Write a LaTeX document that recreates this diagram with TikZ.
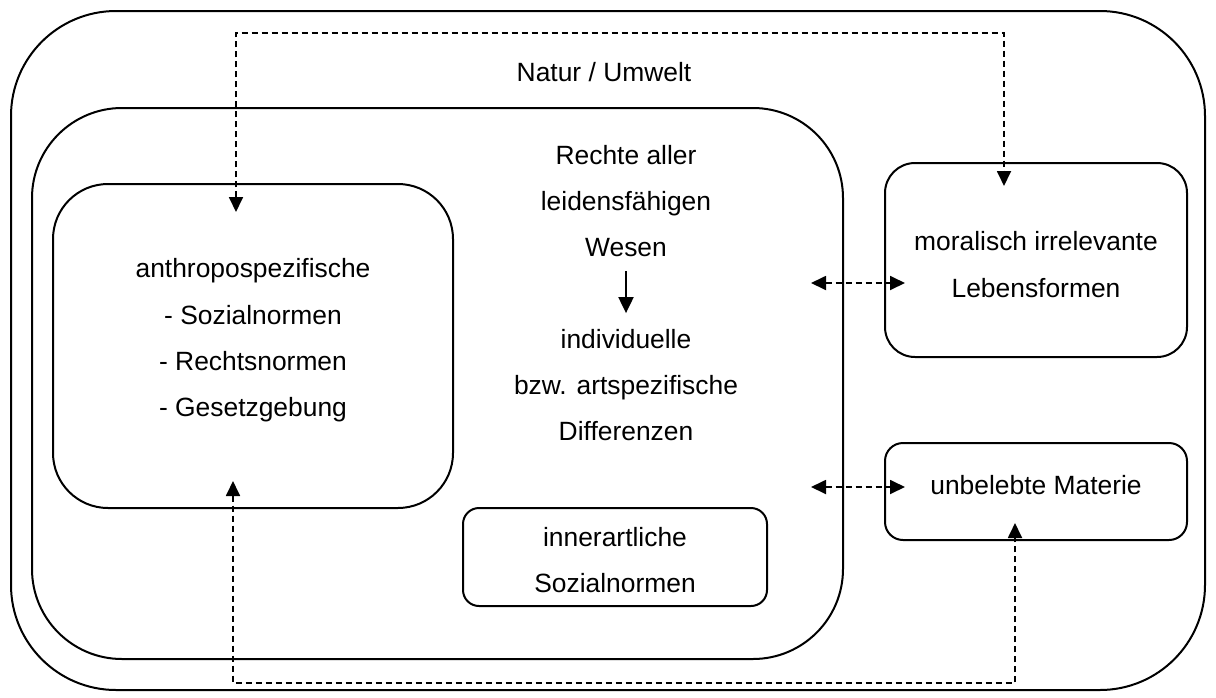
\documentclass[tikz,border=0pt]{standalone}
\usepackage{fontspec}
\setmainfont{Liberation Sans}
\usetikzlibrary{arrows.meta,calc}
\begin{document}
\begin{tikzpicture}[x=0.5pt,y=-0.5pt,
  box/.style={draw, line width=1pt, rectangle, inner sep=0pt},
  txt/.style={align=center, inner sep=0pt, font=\fontsize{13.2pt}{23.2pt}\selectfont},
  dasharrow/.style={line width=0.9pt, dash pattern=on 3pt off 2pt,
    {Triangle[width=7pt,length=7.5pt]}-{Triangle[width=7pt,length=7.5pt]}},
  solidarrow/.style={line width=1pt, -{Triangle[width=7.5pt,length=8pt]}}]
\useasboundingbox (0,0) rectangle (1216,697);

% boxes
\node[box, rounded corners=52.5pt, minimum width=597pt, minimum height=339.5pt] (natur) at (608,350.5) {};
\node[box, rounded corners=45pt, minimum width=405.5pt, minimum height=275.5pt] (rechte) at (437.5,383.5) {};
\node[box, rounded corners=27.5pt, minimum width=200pt, minimum height=162pt] (anthro) at (253,346) {};
\node[box, rounded corners=15pt, minimum width=151pt, minimum height=97pt] (moral) at (1036,260) {};
\node[box, rounded corners=9pt, minimum width=151pt, minimum height=48.5pt] (materie) at (1036,491.5) {};
\node[box, rounded corners=8pt, minimum width=152pt, minimum height=49pt] (inner) at (615,557) {};

% texts
\node[txt] (naturT) at (604,72) {Natur / Umwelt};
\node[txt] (anthroT) at (253,340.5) {anthropospezifische\\- Sozialnormen\\- Rechtsnormen\\- Gesetzgebung};
\node[txt] (rechteT) at (626,201) {Rechte aller\\leidensfähigen\\Wesen};
\node[txt] (diffT) at (626,385) {individuelle\\bzw. artspezifische\\Differenzen};
\node[txt] (moralT) at (1036,264.5) {moralisch irrelevante\\Lebensformen};
\node[txt] (materieT) at (1036,485) {unbelebte Materie};
\node[txt] (innerT) at (615,560) {innerartliche\\Sozialnormen};

% solid arrow
\draw[solidarrow, shorten <=6.75pt, shorten >=7.7pt] (rechteT.south) -- (diffT.north);

% helper coordinates
\coordinate (topline) at (0,33);
\coordinate (botline) at (0,683);
\coordinate (a1) at ($(anthro.north)+(-17,29)$);
\coordinate (m1) at ($(moral.north)+(-32,24)$);
\coordinate (a2) at ($(anthro.south)+(-20,-28)$);
\coordinate (m2) at ($(materie.south)+(-21,-18)$);
\coordinate (h1r) at ($(moral.west)+(21,23)$);
\coordinate (h1l) at ($(rechte.east |- h1r)+(-33,0)$);
\coordinate (h2r) at ($(materie.west)+(21,-4.5)$);
\coordinate (h2l) at ($(rechte.east |- h2r)+(-33,0)$);

% dashed connectors
\draw[dasharrow] (a1) -- (a1 |- topline) -- (m1 |- topline) -- (m1);
\draw[dasharrow] (a2) -- (a2 |- botline) -- (m2 |- botline) -- (m2);
\draw[dasharrow] (h1l) -- (h1r);
\draw[dasharrow] (h2l) -- (h2r);
\end{tikzpicture}
\end{document}
